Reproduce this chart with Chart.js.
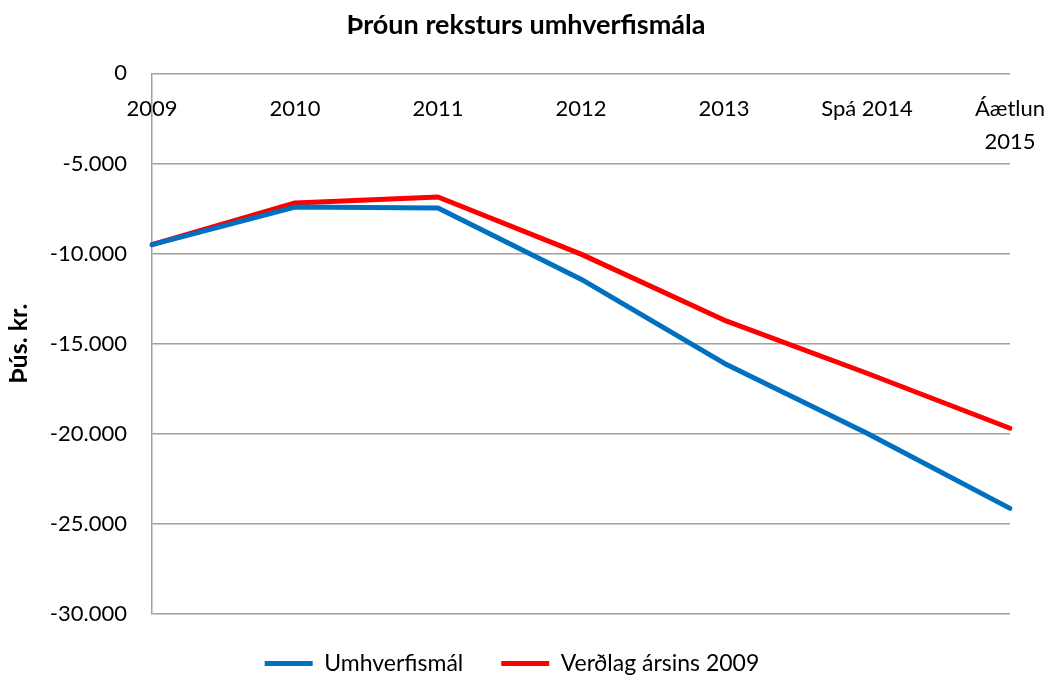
<!DOCTYPE html>
<html>
<head>
<meta charset="utf-8">
<script src="https://cdn.jsdelivr.net/npm/chart.js@4.4.1/dist/chart.umd.min.js"></script>
<style>
  html, body { margin: 0; padding: 0; background: #ffffff; }
  #wrap { width: 1052px; height: 680px; position: relative; }
</style>
</head>
<body>
<div id="wrap"><canvas id="c" width="1052" height="680"></canvas></div>
<script>
const categories = ['2009', '2010', '2011', '2012', '2013', 'Spá 2014', ['Áætlun', '2015']];
const umhverfismal = [-9500, -7420, -7470, -11420, -16080, -19970, -24140];
const verdlag2009 = [-9500, -7190, -6860, -10030, -13690, -16640, -19690];
const seriesNames = ['Umhverfismál', 'Verðlag ársins 2009'];
const yTicks = [0, -5000, -10000, -15000, -20000, -25000, -30000];

const FONT = 'Lato, "Noto Sans", sans-serif';

function fmt(v) {
  const s = Math.abs(v).toString().replace(/\B(?=(\d{3})+(?!\d))/g, '.');
  return (v < 0 ? '-' : '') + s;
}

// shifts the legend block slightly left, as in the reference
const legendShift = {
  id: 'legendShift',
  beforeDraw(chart) {
    if (chart.legend) { chart.legend.right -= 28; }
  }
};

new Chart(document.getElementById('c'), {
  type: 'line',
  data: {
    labels: categories,
    datasets: [
      { label: seriesNames[0], data: umhverfismal, borderColor: '#0070C0', backgroundColor: '#0070C0',
        borderWidth: 5, pointRadius: 0, tension: 0, borderCapStyle: 'round', borderJoinStyle: 'round' },
      { label: seriesNames[1], data: verdlag2009, borderColor: '#FF0000', backgroundColor: '#FF0000',
        borderWidth: 5, pointRadius: 0, tension: 0, borderCapStyle: 'round', borderJoinStyle: 'round' }
    ]
  },
  plugins: [legendShift],
  options: {
    responsive: false,
    animation: false,
    devicePixelRatio: 1,
    layout: { padding: { left: 0, right: 0, top: 0, bottom: -5 } },
    plugins: {
      title: {
        display: true,
        text: 'Þróun reksturs umhverfismála',
        color: '#000',
        font: { family: FONT, size: 27, weight: 'bold', lineHeight: 1.2 },
        padding: { top: 9, bottom: 32 }
      },
      legend: {
        position: 'bottom',
        labels: {
          color: '#000',
          font: { family: FONT, size: 23 },
          boxWidth: 48,
          boxHeight: 5,
          padding: 38,
          generateLabels(chart) {
            const items = Chart.defaults.plugins.legend.labels.generateLabels(chart);
            items.forEach(it => { it.lineWidth = 0; });
            return items;
          }
        }
      },
      tooltip: { enabled: false }
    },
    scales: {
      x: {
        type: 'category',
        position: { y: 0 },
        offset: false,
        grid: { display: false, drawTicks: false },
        border: { display: false },
        afterFit(scale) { scale.paddingLeft = 0; scale.paddingRight = 42; },
        ticks: {
          color: '#000',
          font: { family: FONT, size: 22, lineHeight: 1.5 },
          padding: 19,
          maxRotation: 0,
          autoSkip: false
        }
      },
      y: {
        min: -30000,
        max: 0,
        afterBuildTicks(scale) { scale.ticks = yTicks.map(v => ({ value: v })); },
        afterFit(scale) { scale.width = 152; },
        grid: { color: '#a0a0a0', lineWidth: 1.5, drawTicks: false },
        border: { display: true, color: '#a0a0a0', width: 1.5 },
        title: {
          display: true,
          text: 'Þús. kr.',
          color: '#000',
          font: { family: FONT, size: 25, weight: 'bold' },
          padding: { top: 4, bottom: 0 }
        },
        ticks: {
          color: '#000',
          font: { family: FONT, size: 22 },
          padding: 25,
          callback: (v) => fmt(v)
        }
      }
    }
  }
});
</script>
</body>
</html>
